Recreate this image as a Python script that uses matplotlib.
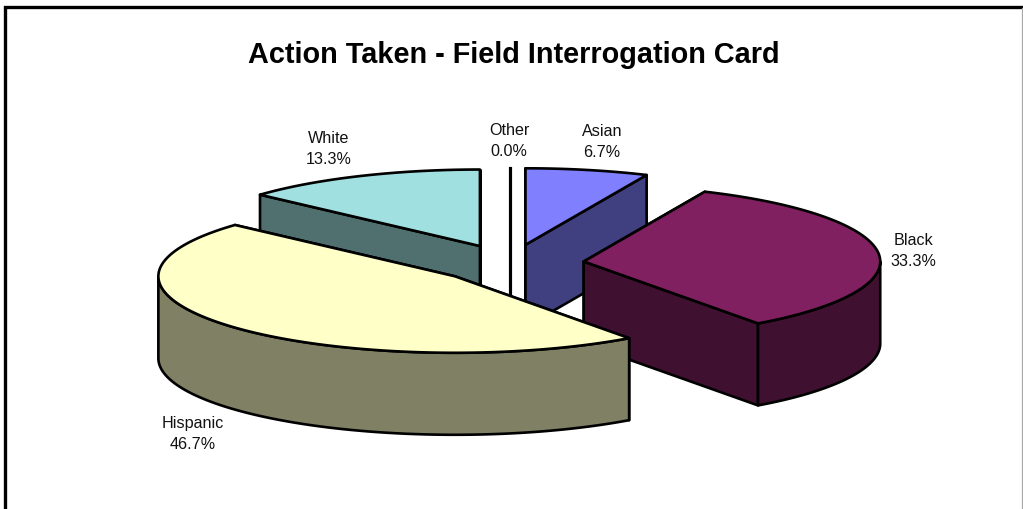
import numpy as np
import matplotlib
matplotlib.use("Agg")
import matplotlib.pyplot as plt
from matplotlib.patches import Polygon

plt.rcParams["font.family"] = ["Liberation Sans", "DejaVu Sans"]

# slices in drawing order round the pie, clockwise from 12 o'clock
labels = ["Other", "Asian", "Black", "Hispanic", "White"]
percents = [0.0, 6.7, 33.3, 46.7, 13.3]
top_colors = ["#FFFFFF", "#8080FF", "#802060", "#FFFFC8", "#A0E0E0"]
side_colors = ["#808080", "#404080", "#401030", "#808064", "#507070"]

title = "Action Taken - Field Interrogation Card"

# pie geometry, in pixels
CX, CY = 510, 263.5
RX, RY = 296.5, 76.5
DEPTH = 82
EXPLODE = 0.25
LW = 1.9

label_pos = {
    "Other": (509, 141),
    "Asian": (602, 142),
    "Black": (913, 251),
    "Hispanic": (193, 434),
    "White": (329, 149),
}


def rim(apex, a0, a1, n=120):
    t = np.radians(np.linspace(a0, a1, n))
    return np.column_stack((apex[0] + RX * np.sin(t), apex[1] - RY * np.cos(t)))


def face(ax, pts, color, z):
    ax.add_patch(Polygon(pts, closed=True, facecolor=color, edgecolor="black",
                         linewidth=LW, joinstyle="round", zorder=z))


def draw_slice(ax, a0, a1, top, side, z):
    mid = np.radians((a0 + a1) / 2)
    apex = (CX + EXPLODE * RX * np.sin(mid), CY - EXPLODE * RY * np.cos(mid))
    down = np.array([0, DEPTH])

    if a1 - a0 == 0:
        end = rim(apex, a0, a0, 1)[0]
        ax.plot([end[0], end[0]], [end[1], apex[1] + DEPTH], color="black",
                lw=LW * 1.2, zorder=z)
        return

    # radial walls, the one further back first
    ends = [rim(apex, a, a, 1)[0] for a in (a0, a1)]
    ends.sort(key=lambda p: p[1])
    for end in ends:
        a = np.array(apex)
        face(ax, [a, end, end + down, a + down], side, z)

    # only the front part of the rim shows a wall
    lo, hi = max(a0, 90), min(a1, 270)
    if hi > lo:
        arc = rim(apex, lo, hi)
        face(ax, np.vstack((arc, (arc + down)[::-1])), side, z)

    face(ax, np.vstack(([apex], rim(apex, a0, a1))), top, z)


fig = plt.figure(figsize=(10.23, 5.09), dpi=100)
ax = fig.add_axes([0, 0, 1, 1])
ax.set_xlim(0, 1023)
ax.set_ylim(509, 0)
ax.axis("off")

# chart frame, cut off at the bottom
ax.plot([5, 5, 1022], [509, 7, 7], color="black", lw=2.4, solid_joinstyle="miter")
ax.plot([1022, 1022], [8, 509], color="#A8A8A8", lw=0.9)

edges = np.concatenate(([0], np.cumsum(percents))) * 360 / sum(percents)
spans = {lab: (edges[i], edges[i + 1], top_colors[i], side_colors[i])
         for i, lab in enumerate(labels)}

# painter's order, back to front
for z, lab in enumerate(["White", "Other", "Asian", "Black", "Hispanic"], start=3):
    draw_slice(ax, *spans[lab], z)

for lab, pct in zip(labels, percents):
    x, y = label_pos[lab]
    ax.text(x, y, f"{lab}\n{pct:.1f}%", ha="center", va="center", fontsize=11.6,
            color="#111111", linespacing=1.42, zorder=10)

ax.text(514, 54.5, title, ha="center", va="center", fontsize=20.8, fontweight="bold",
        color="black", zorder=10)

fig.savefig("out.png", dpi=100)
